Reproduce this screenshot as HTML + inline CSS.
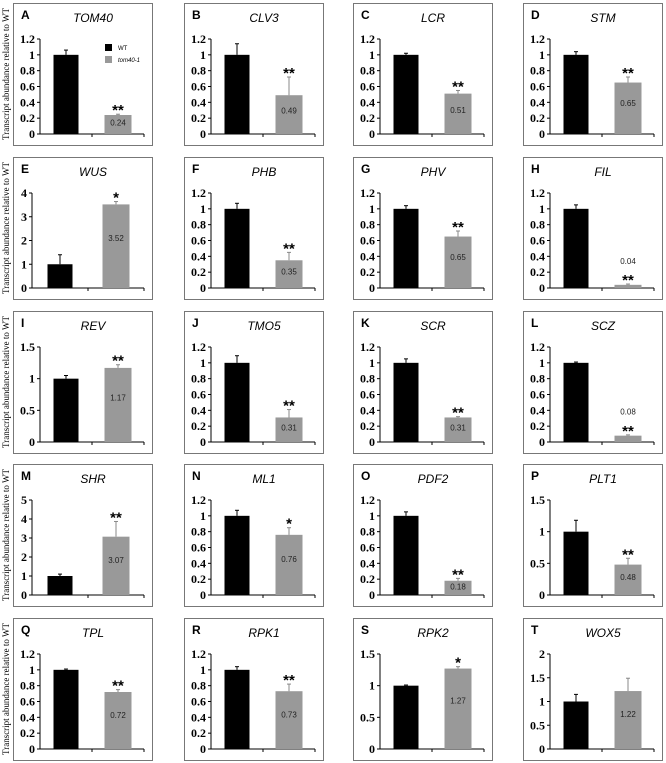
<!DOCTYPE html>
<html><head><meta charset="utf-8"><style>
html,body{margin:0;padding:0;background:#fff;}
svg{display:block;}
</style></head><body>
<svg id="fig" width="666" height="763" viewBox="0 0 666 763" xmlns="http://www.w3.org/2000/svg"></svg>
<script>
const panelLetters=["A","B","C","D","E","F","G","H","I","J","K","L","M","N","O","P","Q","R","S","T"];
const geneNames=["TOM40","CLV3","LCR","STM","WUS","PHB","PHV","FIL","REV","TMO5","SCR","SCZ","SHR","ML1","PDF2","PLT1","TPL","RPK1","RPK2","WOX5"];
const wtValues=[1,1,1,1,1,1,1,1,1,1,1,1,1,1,1,1,1,1,1,1];
const wtErrors=[0.06,0.14,0.02,0.04,0.4,0.07,0.04,0.05,0.05,0.09,0.05,0.01,0.1,0.07,0.05,0.18,0.01,0.04,0.01,0.15];
const mutValues=[0.24,0.49,0.51,0.65,3.52,0.35,0.65,0.04,1.17,0.31,0.31,0.08,3.07,0.76,0.18,0.48,0.72,0.73,1.27,1.22];
const mutErrors=[0.01,0.23,0.04,0.07,0.12,0.1,0.07,0.01,0.05,0.1,0.01,0.01,0.8,0.09,0.03,0.1,0.03,0.09,0.03,0.27];
const valueLabels=["0.24","0.49","0.51","0.65","3.52","0.35","0.65","0.04","1.17","0.31","0.31","0.08","3.07","0.76","0.18","0.48","0.72","0.73","1.27","1.22"];
const starMarks=["**","**","**","**","*","**","**","**","**","**","**","**","**","*","**","**","**","**","*",""];
const axisMax=[1.2,1.2,1.2,1.2,4,1.2,1.2,1.2,1.5,1.2,1.2,1.2,5,1.2,1.2,1.5,1.2,1.2,1.5,2];
const axisStep=[0.2,0.2,0.2,0.2,1,0.2,0.2,0.2,0.5,0.2,0.2,0.2,1,0.2,0.2,0.5,0.2,0.2,0.5,0.5];

const NS="http://www.w3.org/2000/svg";
const svg=document.getElementById('fig');
function mk(tag,attrs,parent){const e=document.createElementNS(NS,tag);for(const k in attrs)e.setAttribute(k,attrs[k]);(parent||svg).appendChild(e);return e;}
const colX=[13,184,353,523];
const rowY=[3,157,311,464,618];
const BW=139,BH=142;
function fmt(v,step){if(step>=1)return String(Math.round(v));return (Math.round(v*10)/10).toString();}

for(let i=0;i<20;i++){
  const c=i%4,r=Math.floor(i/4);
  const bx=colX[c],by=rowY[r];
  const g=mk('g',{transform:`translate(${bx},${by})`});
  
  
  const box=mk('rect',{x:0.5,y:0.5,width:BW,height:BH,fill:'#fff',stroke:'#777','stroke-width':1},g);
  
  
  const lt=mk('text',{x:8,y:16,'font-family':'Liberation Sans, sans-serif','font-weight':'bold','font-size':12,fill:'#000'},g);
  lt.textContent=panelLetters[i];
  
  
  const tt=mk('text',{x:80,y:19,'text-anchor':'middle','font-family':'Liberation Sans, sans-serif','font-style':'italic','font-size':12,fill:'#000'},g);
  tt.textContent=geneNames[i];
  
  

  const intAxis=axisStep[i]>=1;
  const ax0=intAxis?19:27;
  const ax1=BW-8;
  const yTop=36,yZero=131;
  const ys=v=>yZero-(v/axisMax[i])*(yZero-yTop);
  const plotW=ax1-ax0;
  const xc=k=>ax0+plotW*(k===0?0.25:0.75);
  const yl=mk('line',{x1:ax0,y1:yTop,x2:ax0,y2:yZero,stroke:'#000','stroke-width':1},g);
  
  
  const xl=mk('line',{x1:ax0,y1:yZero,x2:ax1,y2:yZero,stroke:'#000','stroke-width':1},g);
  
  
  [ax0+plotW/2,ax1].forEach(tx=>{mk('line',{x1:tx,y1:yZero,x2:tx,y2:yZero+3,stroke:'#000'},g);});
  const n=Math.round(axisMax[i]/axisStep[i]);
  for(let t=0;t<=n;t++){
    const v=t*axisStep[i];const y=ys(v);
    mk('line',{x1:ax0-3,y1:y,x2:ax0,y2:y,stroke:'#000'},g);
    const tl=mk('text',{x:ax0-5,y:y+4,'text-anchor':'end','font-family':'Liberation Serif, serif','font-weight':'bold','font-size':12,fill:'#000'},g);
    tl.textContent=fmt(v,axisStep[i]);
    
    
  }
  const bw=25;
  const h1=yZero-ys(wtValues[i]);
  const b1=mk('rect',{x:xc(0)-bw/2,y:ys(wtValues[i]),width:bw,height:h1,fill:'#000'},g);
  
  
  const e1=ys(wtValues[i]+wtErrors[i]);
  mk('line',{x1:xc(0),y1:e1,x2:xc(0),y2:ys(wtValues[i]),stroke:'#000'},g);
  mk('line',{x1:xc(0)-2,y1:e1,x2:xc(0)+2,y2:e1,stroke:'#000'},g);
  const h2=yZero-ys(mutValues[i]);
  const b2=mk('rect',{x:xc(1)-bw*0.54,y:ys(mutValues[i]),width:bw*1.08,height:h2,fill:'#999'},g);
  
  
  const e2=ys(mutValues[i]+mutErrors[i]);
  mk('line',{x1:xc(1),y1:e2,x2:xc(1),y2:ys(mutValues[i]),stroke:'#888'},g);
  mk('line',{x1:xc(1)-2,y1:e2,x2:xc(1)+2,y2:e2,stroke:'#888'},g);
  const small=h2<14;
  const vl=mk('text',{x:xc(1),y:small?ys(mutValues[i])-21:yZero-Math.max(h2*0.6,7)+3,'text-anchor':'middle','font-family':'Liberation Sans, sans-serif','font-size':8,fill:'#222'},g);
  vl.textContent=valueLabels[i];
  
  
  if(starMarks[i]){
    const st=mk('text',{x:xc(1),y:e2+1,'text-anchor':'middle','font-family':'Liberation Sans, sans-serif','font-size':15,'font-weight':'bold',fill:'#000'},g);
    st.textContent=starMarks[i];
    
    
  }
  if(i===0){
    const lg=mk('g',{},g);
    
    
    mk('rect',{x:92,y:41,width:7,height:7,fill:'#000'},lg);
    const t1=mk('text',{x:105,y:47,'font-family':'Liberation Sans, sans-serif','font-size':6,fill:'#000'},lg);
    t1.textContent='WT';
    
    
    mk('rect',{x:92,y:53,width:7,height:7,fill:'#999'},lg);
    const t2=mk('text',{x:105,y:59,'font-family':'Liberation Sans, sans-serif','font-size':6,'font-style':'italic',fill:'#000'},lg);
    t2.textContent='tom40-1';
    
    
  }
  if(c===0){
    const yt=mk('text',{x:0,y:0,transform:`translate(9,${by+BH/2}) rotate(-90)`,'text-anchor':'middle','font-family':'Liberation Serif, serif','font-size':9,fill:'#000'});
    yt.textContent='Transcript abundance relative to WT';
    
    
  }
}
</script>
</body></html>
